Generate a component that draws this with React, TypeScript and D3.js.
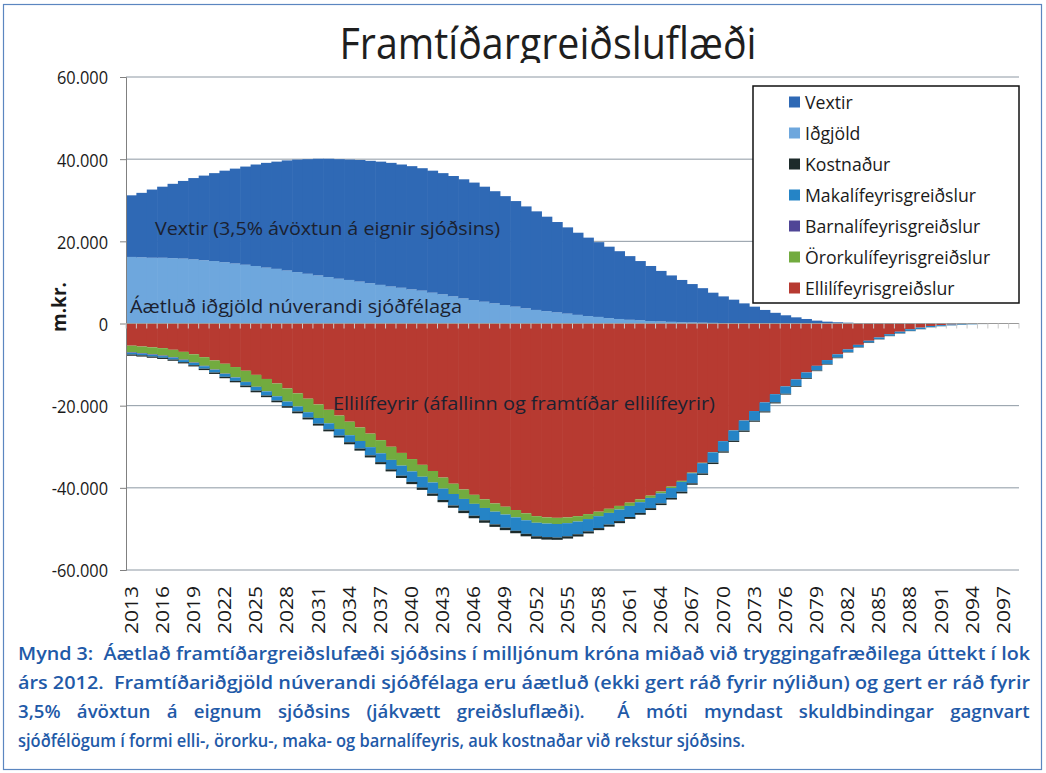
import * as d3 from 'd3';
import { useEffect, useRef } from 'react';

// categories: one bar per year
const years = d3.range(2013, 2099);

// m.kr. (positive = inflow, negative = outflow)
const vextir = [
  15000, 15700, 16600, 17300, 18100, 18900, 19800, 20600, 21400, 22300,
  23100, 23900, 24700, 25500, 26100, 26800, 27400, 27900, 28400, 28800,
  29100, 29300, 29600, 29800, 30000, 30100, 30000, 30000, 29800, 29700,
  29500, 29300, 29000, 28600, 28000, 27300, 26500, 25700, 24800, 24000,
  23000, 22000, 21000, 20000, 19100, 18200, 17400, 16500, 15500, 14400,
  13400, 12300, 11300, 10300, 9350, 8400, 7350, 6500, 5720, 4850,
  4060, 3270, 2580, 1990, 1500, 1100, 700, 450, 300, 200,
  120, 80, 50, 40, 30, 20, 20, 10, 10, 10,
  0, 0, 0, 0, 0, 0,
];
const idgjold = [
  16200, 16100, 16000, 16000, 15900, 15800, 15600, 15400, 15200, 14900,
  14600, 14300, 14000, 13600, 13300, 12900, 12500, 12100, 11700, 11300,
  10900, 10600, 10200, 9800, 9400, 9000, 8700, 8300, 8000, 7500,
  7100, 6600, 6100, 5700, 5300, 4900, 4500, 4100, 3700, 3300,
  3000, 2700, 2400, 2100, 1800, 1600, 1300, 1100, 900, 800,
  600, 500, 400, 300, 250, 200, 150, 100, 80, 50,
  40, 30, 20, 10, 0, 0, 0, 0, 0, 0,
  0, 0, 0, 0, 0, 0, 0, 0, 0, 0,
  0, 0, 0, 0, 0, 0,
];
const elli = [
  -5400, -5600, -5800, -6000, -6400, -6900, -7500, -8200, -9000, -9800,
  -10600, -11500, -12500, -13500, -14600, -15800, -17000, -18300, -19700, -21000,
  -22400, -23900, -25300, -26800, -28400, -30000, -31500, -33000, -34400, -35900,
  -37500, -39000, -40400, -41700, -42800, -43800, -44600, -45400, -46200, -46900,
  -47200, -47300, -47200, -46900, -46400, -45800, -45100, -44400, -43600, -42800,
  -41900, -40900, -39700, -38300, -36300, -33900, -31300, -28600, -26000, -23600,
  -21300, -19200, -17200, -15300, -13600, -11900, -10300, -8900, -7500, -6300,
  -5200, -4200, -3400, -2600, -2000, -1400, -1000, -600, -400, -250,
  -150, -100, -50, -30, -20, -10,
];
const ororku = [
  -1600, -1600, -1700, -1800, -1800, -1900, -2000, -2100, -2200, -2400,
  -2500, -2700, -2900, -3000, -3100, -3200, -3200, -3300, -3300, -3300,
  -3300, -3300, -3300, -3300, -3200, -3200, -3100, -3000, -2900, -2800,
  -2700, -2500, -2300, -2200, -2100, -2000, -1900, -1800, -1700, -1600,
  -1500, -1500, -1400, -1300, -1200, -1100, -1000, -900, -800, -700,
  -550, -450, -350, -250, -150, -100, -60, -40, -30, -20,
  -10, 0, 0, 0, 0, 0, 0, 0, 0, 0,
  0, 0, 0, 0, 0, 0, 0, 0, 0, 0,
  0, 0, 0, 0, 0, 0,
];
const barna = [
  -150, -150, -140, -130, -120, -110, -100, -90, -80, -70,
  -60, -50, -40, -30, -20, -10, -10, 0, 0, 0,
  0, 0, 0, 0, 0, 0, 0, 0, 0, 0,
  0, 0, 0, 0, 0, 0, 0, 0, 0, 0,
  0, 0, 0, 0, 0, 0, 0, 0, 0, 0,
  0, 0, 0, 0, 0, 0, 0, 0, 0, 0,
  0, 0, 0, 0, 0, 0, 0, 0, 0, 0,
  0, 0, 0, 0, 0, 0, 0, 0, 0, 0,
  0, 0, 0, 0, 0, 0,
];
const maka = [
  -400, -400, -400, -400, -450, -500, -550, -600, -650, -700,
  -800, -850, -900, -1000, -1050, -1100, -1200, -1300, -1400, -1500,
  -1600, -1700, -1850, -2000, -2150, -2300, -2450, -2550, -2650, -2700,
  -2750, -2800, -2850, -2900, -3000, -3100, -3200, -3250, -3300, -3300,
  -3300, -3300, -3200, -3100, -3000, -2900, -2850, -2800, -2700, -2600,
  -2500, -2450, -2400, -2400, -2450, -2500, -2500, -2500, -2500, -2450,
  -2350, -2200, -2000, -1800, -1600, -1350, -1150, -950, -800, -650,
  -550, -450, -400, -400, -400, -400, -350, -300, -250, -200,
  -150, -100, -80, -50, -40, -30,
];
const kostnadur = [
  -300, -300, -300, -300, -300, -300, -300, -350, -350, -350,
  -350, -400, -400, -400, -400, -400, -450, -450, -450, -450,
  -450, -500, -500, -500, -500, -500, -550, -550, -550, -550,
  -550, -550, -600, -600, -600, -600, -600, -600, -600, -600,
  -600, -550, -550, -550, -500, -500, -500, -500, -450, -450,
  -450, -400, -400, -400, -350, -350, -350, -300, -300, -300,
  -250, -250, -250, -200, -200, -200, -150, -150, -150, -100,
  -100, -100, -80, -80, -60, -60, -50, -40, -30, -20,
  -20, -10, -10, -10, 0, 0,
];

const yTicks = [-60000, -40000, -20000, 0, 20000, 40000, 60000];

// stacking order (Excel series order)
const seriesKeys = ['elli', 'ororku', 'barna', 'maka', 'kostnadur', 'idgjold', 'vextir'];

const legendItems = [
  { key: 'vextir', label: 'Vextir' },
  { key: 'idgjold', label: 'Iðgjöld' },
  { key: 'kostnadur', label: 'Kostnaður' },
  { key: 'maka', label: 'Makalífeyrisgreiðslur' },
  { key: 'barna', label: 'Barnalífeyrisgreiðslur' },
  { key: 'ororku', label: 'Örorkulífeyrisgreiðslur' },
  { key: 'elli', label: 'Ellilífeyrisgreiðslur' },
];

const captionLines = [
  'Mynd 3:  Áætlað framtíðargreiðslufæði sjóðsins í milljónum króna miðað við tryggingafræðilega úttekt í lok',
  'árs 2012.  Framtíðariðgjöld núverandi sjóðfélaga eru áætluð (ekki gert ráð fyrir nýliðun) og gert er ráð fyrir',
  '3,5% ávöxtun á eignum sjóðsins (jákvætt greiðsluflæði).  Á móti myndast skuldbindingar gagnvart',
  'sjóðfélögum í formi elli-, örorku-, maka- og barnalífeyris, auk kostnaðar við rekstur sjóðsins.',
];

const colors: Record<string, string> = {
  vextir: '#2f69b5',
  idgjold: '#6ea7dd',
  kostnadur: '#1d2b2b',
  maka: '#2584c6',
  barna: '#4f4596',
  ororku: '#72ab3f',
  elli: '#b73a31',
};

const FONT = "'Open Sans', 'Noto Sans', sans-serif";

export default function App() {
  const svgRef = useRef<SVGSVGElement>(null);

  useEffect(() => {
    const svg = d3.select(svgRef.current);
    svg.selectAll('*').remove();

    const W = 1046;
    const H = 773;
    const left = 126, right = 1019, top = 77, bottom = 570;

    // squeeze text horizontally (the scan is a bit stretched vertically)
    const squeeze = (sel: any, factor: number) => {
      sel.each(function (this: SVGTextElement) {
        const len = this.getComputedTextLength();
        this.setAttribute('textLength', String(len * factor));
        this.setAttribute('lengthAdjust', 'spacingAndGlyphs');
      });
    };
    const fitTo = (sel: any, width: number) => {
      sel.attr('textLength', width).attr('lengthAdjust', 'spacingAndGlyphs');
    };

    svg.append('rect').attr('width', W).attr('height', H).attr('fill', '#fff');

    // outer frame
    svg.append('rect')
      .attr('x', 3.5).attr('y', 4.5).attr('width', 1038).attr('height', 765)
      .attr('fill', 'none').attr('stroke', '#5b86c0').attr('stroke-width', 1.2);

    const rows = years.map((year, i) => ({
      year,
      elli: elli[i], ororku: ororku[i], barna: barna[i], maka: maka[i],
      kostnadur: kostnadur[i], idgjold: idgjold[i], vextir: vextir[i],
    }));

    const layers = d3.stack<any>()
      .keys(seriesKeys)
      .offset(d3.stackOffsetDiverging)(rows);

    const x = d3.scaleBand<string>()
      .domain(years.map(String))
      .range([left, right])
      .padding(0);

    const y = d3.scaleLinear()
      .domain([-60000, 60000])
      .range([bottom, top]);

    const is = d3.formatLocale({
      decimal: ',', thousands: '.', grouping: [3], currency: ['', ' kr.'], minus: '-',
    } as any);
    const fmt = is.format(',d');

    // title, clipped at the chart top like the original
    svg.append('clipPath').attr('id', 'titleClip')
      .append('rect').attr('x', 0).attr('y', 0).attr('width', W).attr('height', 63);
    const title = svg.append('text')
      .attr('clip-path', 'url(#titleClip)')
      .attr('x', 548).attr('y', 59)
      .attr('text-anchor', 'middle')
      .attr('font-family', FONT).attr('font-size', 44)
      .attr('fill', '#1e1e1e')
      .text('Framtíðargreiðsluflæði');
    fitTo(title, 417);

    // gridlines
    svg.append('g')
      .selectAll('line')
      .data(yTicks.filter(t => t !== 0))
      .join('line')
      .attr('x1', left).attr('x2', right)
      .attr('y1', d => y(d)).attr('y2', d => y(d))
      .attr('stroke', '#8d98a3').attr('stroke-width', 1);

    // stacked bars
    svg.append('g')
      .selectAll('g')
      .data(layers)
      .join('g')
      .attr('fill', d => colors[d.key])
      .selectAll('rect')
      .data(d => d)
      .join('rect')
      .attr('x', (d: any) => x(String(d.data.year))!)
      .attr('width', x.bandwidth() + 0.6)
      .attr('y', d => y(Math.max(d[0], d[1])))
      .attr('height', d => Math.abs(y(d[0]) - y(d[1])));

    // y axis
    const yAxis = svg.append('g')
      .attr('transform', `translate(${left},0)`)
      .call(d3.axisLeft(y).tickValues(yTicks).tickSize(6).tickFormat(d => fmt(d as number)));
    yAxis.select('.domain').attr('stroke', '#808080');
    yAxis.selectAll('.tick line').attr('stroke', '#808080');
    const yLabels = yAxis.selectAll('.tick text')
      .attr('x', -18)
      .attr('dy', '0.36em')
      .attr('font-family', FONT)
      .attr('font-size', 19)
      .attr('fill', '#1a1a1a');
    squeeze(yLabels, 0.86);

    // x axis line and ticks at category boundaries
    const y0 = y(0);
    svg.append('line')
      .attr('x1', left).attr('x2', right)
      .attr('y1', y0).attr('y2', y0)
      .attr('stroke', '#9a9a9a');
    svg.append('g')
      .selectAll('line')
      .data(d3.range(years.length + 1))
      .join('line')
      .attr('x1', i => left + i * x.step()).attr('x2', i => left + i * x.step())
      .attr('y1', y0).attr('y2', y0 + 5)
      .attr('stroke', '#c9c9c9').attr('stroke-width', 1);

    // x labels, every third year
    const xLabels = svg.append('g')
      .selectAll('text')
      .data(years.filter((_, i) => i % 3 === 0))
      .join('text')
      .attr('transform', d => `translate(${x(String(d))! + x.bandwidth() / 2},586) rotate(-90)`)
      .attr('text-anchor', 'end')
      .attr('dy', '0.36em')
      .attr('font-family', FONT)
      .attr('font-size', 18)
      .attr('fill', '#1a1a1a')
      .text(d => String(d));
    fitTo(xLabels, 48);

    // y axis title
    svg.append('text')
      .attr('transform', 'translate(66,307) rotate(-90)')
      .attr('text-anchor', 'middle')
      .attr('font-family', FONT)
      .attr('font-size', 19)
      .attr('font-weight', 'bold')
      .attr('fill', '#1a1a1a')
      .text('m.kr.');

    // annotations inside the areas
    const notes = [
      { text: 'Vextir (3,5% ávöxtun á eignir sjóðsins)', x: 155, y: 235, w: 345 },
      { text: 'Áætluð iðgjöld núverandi sjóðfélaga', x: 130, y: 313, w: 332 },
      { text: 'Ellilífeyrir (áfallinn og framtíðar ellilífeyrir)', x: 333, y: 410, w: 382 },
    ];
    notes.forEach(n => {
      const t = svg.append('text')
        .attr('x', n.x).attr('y', n.y)
        .attr('font-family', FONT)
        .attr('font-size', 18)
        .attr('fill', '#1b2130')
        .text(n.text);
      fitTo(t, n.w);
    });

    // legend
    const lg = svg.append('g');
    lg.append('rect')
      .attr('x', 753).attr('y', 86).attr('width', 266).attr('height', 217)
      .attr('fill', '#fff').attr('stroke', '#111').attr('stroke-width', 1.5);
    const rowsG = lg.selectAll('g.item')
      .data(legendItems)
      .join('g')
      .attr('class', 'item')
      .attr('transform', (_, i) => `translate(789,${102 + i * 31})`);
    rowsG.append('rect')
      .attr('x', 0).attr('y', -5.5).attr('width', 11).attr('height', 11)
      .attr('fill', d => colors[d.key]);
    const lgText = rowsG.append('text')
      .attr('x', 16).attr('y', 6.5)
      .attr('font-family', FONT)
      .attr('font-size', 18)
      .attr('fill', '#1a1a1a')
      .text(d => d.label);
    squeeze(lgText, 0.98);

    // caption: lines 1, 2 and 4 fitted to their width, line 3 justified by word spacing
    const capX = 18;
    const capWidths = [1012, 1012, 1012, 727];
    const capTexts = captionLines.map(line =>
      svg.append('text')
        .attr('x', 0).attr('y', 0)
        .attr('font-family', FONT)
        .attr('font-size', 18)
        .attr('font-weight', 600)
        .attr('fill', '#1f5aa8')
        .style('white-space', 'pre')
        .text(line)
    );
    const natural = capTexts.map(t => (t.node() as SVGTextElement).getComputedTextLength());
    const scales = natural.map((n, i) => capWidths[i] / n);
    const sxJust = (scales[0] + scales[1] + scales[3]) / 3;
    capTexts.forEach((t, i) => {
      const baseY = 660 + i * 29;
      if (i === 2) {
        const spaces = (captionLines[i].match(/ /g) || []).length;
        const extra = (capWidths[i] / sxJust - natural[i]) / spaces;
        t.attr('transform', `translate(${capX},${baseY}) scale(${sxJust},1)`)
          .attr('word-spacing', extra);
      } else {
        t.attr('transform', `translate(${capX},${baseY})`);
        fitTo(t, capWidths[i]);
      }
    });
  }, []);

  return (
    <svg
      ref={svgRef}
      width={1046}
      height={773}
      viewBox="0 0 1046 773"
      style={{ position: 'absolute', left: 0, top: 0 }}
    />
  );
}
